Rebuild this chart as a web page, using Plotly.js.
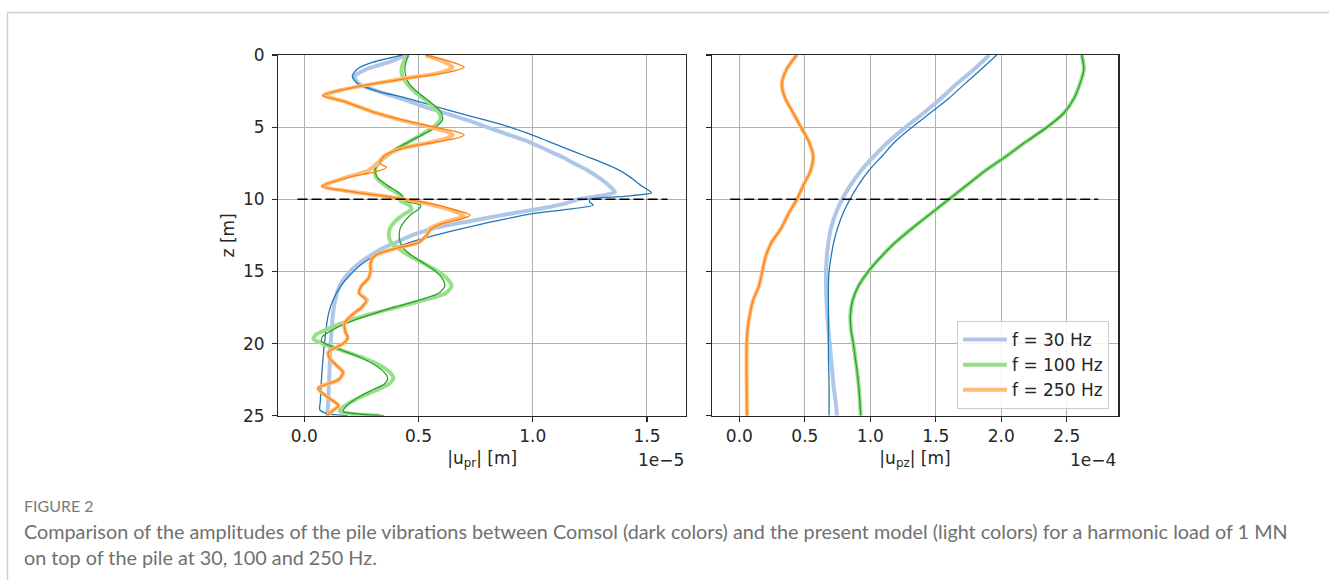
<!DOCTYPE html>
<html><head><meta charset="utf-8">
<script src="https://cdn.plot.ly/plotly-3.0.1.min.js"></script>
<style>html,body{margin:0;padding:0;background:#fff;} #chart{width:1329px;height:580px;}</style>
</head><body><div id="chart"></div>
<script>
// ---------- DATA (radial amplitude |u_pr| in 1e-5 m, vertical |u_pz| in 1e-4 m, depth z in m) ----------
// Left panel, f = 30 Hz
const zR30Model  = [0,0.5,1.0,1.5,2.0,2.5,3.0,3.5,4.0,4.5,5.0,5.5,6.0,6.5,7.0,7.5,8.0,8.5,9.0,9.5,9.75,10.0,10.3,10.6,11.0,11.5,12.0,12.5,13.0,13.5,14.0,14.5,15.0,16.0,17.0,18.0,19.0,20.0,21.0,22.0,23.0,24.0,25.0];
const uR30Model  = [0.45,0.37,0.27,0.22,0.24,0.32,0.42,0.51,0.61,0.71,0.80,0.89,0.98,1.05,1.12,1.18,1.24,1.29,1.33,1.36,1.30,1.20,1.14,1.05,0.90,0.73,0.57,0.47,0.40,0.33,0.28,0.235,0.20,0.155,0.135,0.125,0.12,0.115,0.112,0.11,0.107,0.105,0.10];
const zR30Comsol = [0,0.5,1.0,1.5,2.0,2.5,3.0,3.5,4.0,4.5,5.0,5.5,6.0,6.5,7.0,7.5,8.0,8.5,9.0,9.3,9.55,9.8,10.0,10.2,10.4,10.7,11.0,11.5,12.0,12.5,13.0,13.5,14.0,14.5,15.0,16.0,17.0,18.0,19.0,20.0,21.0,22.0,23.0,24.0,24.6,24.85,25.0];
const uR30Comsol = [0.43,0.30,0.23,0.21,0.235,0.32,0.45,0.56,0.67,0.79,0.90,0.99,1.07,1.15,1.23,1.31,1.38,1.43,1.47,1.50,1.52,1.40,1.25,1.25,1.265,1.15,1.00,0.84,0.70,0.57,0.46,0.37,0.30,0.25,0.215,0.16,0.125,0.105,0.095,0.088,0.082,0.077,0.073,0.07,0.068,0.10,0.19];
// Left panel, f = 100 Hz
const zR100Model  = [0,0.5,1,1.5,2,2.5,3,3.5,4,4.5,5,5.5,6,6.5,7,7.5,8,8.5,9,9.5,9.8,10.1,10.4,10.7,11,11.5,12,12.5,13,13.5,14,14.5,15,15.5,16,16.5,17,17.5,18,18.5,19,19.4,19.7,20,20.5,21,21.5,22,22.4,22.8,23.2,23.6,24,24.4,24.7,24.9,25];
const uR100Model  = [0.455,0.435,0.425,0.43,0.45,0.48,0.52,0.56,0.59,0.595,0.565,0.515,0.46,0.405,0.36,0.325,0.31,0.315,0.35,0.40,0.425,0.42,0.46,0.47,0.44,0.40,0.375,0.37,0.38,0.42,0.47,0.53,0.585,0.625,0.645,0.62,0.52,0.40,0.28,0.18,0.10,0.05,0.04,0.08,0.17,0.26,0.33,0.375,0.39,0.37,0.32,0.26,0.21,0.17,0.155,0.22,0.33];
const zR100Comsol = [0,0.5,1,1.5,2,2.5,3,3.5,4,4.5,5,5.5,6,6.5,7,7.5,8,8.5,9,9.5,9.8,10.1,10.4,10.7,11,11.5,12,12.5,13,13.5,14,14.5,15,15.5,16,16.5,17,17.5,18,18.5,19,19.5,19.85,20.2,20.5,21,21.5,22,22.4,22.8,23.2,23.6,24,24.4,24.7,24.9,25];
const uR100Comsol = [0.455,0.445,0.44,0.445,0.46,0.49,0.53,0.57,0.60,0.605,0.575,0.52,0.46,0.40,0.35,0.32,0.31,0.32,0.36,0.41,0.43,0.44,0.51,0.50,0.47,0.44,0.42,0.415,0.42,0.44,0.48,0.53,0.575,0.605,0.615,0.59,0.50,0.39,0.29,0.20,0.13,0.08,0.075,0.12,0.17,0.25,0.31,0.35,0.365,0.35,0.30,0.25,0.21,0.18,0.17,0.25,0.35];
// Left panel, f = 250 Hz
const zR250Model  = [0,0.4,0.85,1.2,1.6,2.0,2.4,2.8,3.2,3.6,4.0,4.5,5.0,5.3,5.55,5.8,6.1,6.5,7.0,7.5,8.0,8.5,9.1,9.5,9.85,10.2,10.6,11.0,11.2,11.5,12.0,12.5,13.0,13.4,13.9,14.4,15.0,15.5,16.0,16.5,17.0,17.5,18.0,18.6,19.2,19.6,20.0,20.6,21.0,21.5,22.0,22.5,23.1,23.7,24.3,24.7,25.0];
const uR250Model  = [0.53,0.60,0.65,0.60,0.45,0.30,0.17,0.085,0.17,0.24,0.31,0.42,0.55,0.62,0.65,0.62,0.54,0.42,0.35,0.32,0.28,0.18,0.08,0.22,0.38,0.51,0.61,0.68,0.70,0.63,0.55,0.535,0.50,0.40,0.31,0.29,0.29,0.28,0.25,0.24,0.275,0.25,0.21,0.175,0.18,0.19,0.17,0.105,0.11,0.14,0.17,0.15,0.06,0.10,0.15,0.12,0.10];
const zR250Comsol = [0,0.4,0.85,1.2,1.6,2.0,2.4,2.8,3.2,3.6,4.0,4.5,5.0,5.3,5.55,5.8,6.1,6.5,7.0,7.5,7.8,8.1,8.5,9.1,9.5,9.85,10.2,10.6,11.1,11.4,11.7,12.0,12.5,13.0,13.4,13.9,14.4,15.0,15.5,16.0,16.5,17.0,17.5,18.0,18.6,19.2,19.6,20.0,20.6,21.0,21.5,22.0,22.5,23.1,23.7,24.3,24.7,25.0];
const uR250Comsol = [0.53,0.63,0.70,0.63,0.46,0.30,0.17,0.08,0.17,0.24,0.31,0.43,0.57,0.66,0.70,0.66,0.55,0.42,0.35,0.33,0.36,0.31,0.19,0.076,0.22,0.38,0.52,0.63,0.726,0.68,0.60,0.56,0.535,0.50,0.40,0.31,0.29,0.29,0.28,0.25,0.24,0.27,0.25,0.21,0.175,0.18,0.19,0.17,0.105,0.11,0.14,0.17,0.15,0.06,0.10,0.15,0.12,0.10];
// Right panel (vertical amplitude)
const zV = [0,1,2,3,4,5,6,7,8,9,10,11,12,13,14,15,16,17,18,19,20,21,22,23,24,25];
const uV30Model   = [1.908,1.79,1.66,1.54,1.41,1.27,1.14,1.03,0.93,0.85,0.785,0.735,0.70,0.68,0.668,0.662,0.662,0.665,0.672,0.68,0.69,0.70,0.71,0.72,0.735,0.745];
const uV30Comsol  = [1.965,1.845,1.72,1.60,1.46,1.32,1.19,1.09,0.99,0.91,0.845,0.79,0.75,0.72,0.70,0.685,0.68,0.68,0.68,0.68,0.68,0.68,0.683,0.685,0.685,0.685];
const uV100Model  = [2.614,2.63,2.60,2.555,2.48,2.35,2.19,2.04,1.88,1.74,1.60,1.46,1.32,1.19,1.08,0.985,0.91,0.865,0.848,0.852,0.87,0.885,0.90,0.912,0.92,0.927];
const uV100Comsol = [2.614,2.63,2.60,2.555,2.48,2.35,2.19,2.04,1.88,1.74,1.60,1.46,1.32,1.19,1.08,0.985,0.91,0.865,0.848,0.852,0.87,0.885,0.90,0.912,0.92,0.927];
const uV250Model  = [0.438,0.36,0.325,0.35,0.41,0.47,0.53,0.563,0.545,0.49,0.44,0.375,0.32,0.245,0.20,0.175,0.15,0.105,0.08,0.063,0.056,0.055,0.055,0.056,0.057,0.058];
const uV250Comsol = [0.438,0.36,0.325,0.35,0.41,0.47,0.53,0.563,0.545,0.49,0.44,0.375,0.32,0.245,0.20,0.175,0.15,0.105,0.08,0.063,0.056,0.055,0.055,0.056,0.057,0.058];
// Pile toe / interface line
const interfaceDepth = 10;
const interfaceSpanR = [-0.03, 1.59];
const interfaceSpanV = [-0.07, 2.74];
// Legend labels and ticks
const seriesNames = ['f = 30 Hz','f = 100 Hz','f = 250 Hz'];
const xTicksR = [0, 0.5, 1.0, 1.5];
const xTicksV = [0, 0.5, 1.0, 1.5, 2.0, 2.5];
const yTicks = [0, 5, 10, 15, 20, 25];

// ---------- STYLE ----------
const FONT = '"DejaVu Sans", "Liberation Sans", sans-serif';
const CAPFONT = 'Lato, "Open Sans", sans-serif';
const INK = '#262626';
const light = ['#aec7e8','#98df8a','#ffbb78'];
const dark  = ['#1f77b4','#2ca02c','#ff7f0e'];

function modelTrace(x, y, i, xa, ya, show){
  return {x:x, y:y, xaxis:xa, yaxis:ya, type:'scatter', mode:'lines', name:seriesNames[i],
    line:{color:light[i], width:4, shape:'spline', smoothing:0.7}, showlegend:show, legendgroup:'g'+i, hoverinfo:'skip'};
}
function comsolTrace(x, y, i, xa, ya){
  return {x:x, y:y, xaxis:xa, yaxis:ya, type:'scatter', mode:'lines', name:seriesNames[i]+' (Comsol)',
    line:{color:dark[i], width:1.3, shape:'spline', smoothing:0.7}, showlegend:false, legendgroup:'g'+i, hoverinfo:'skip'};
}

const traces = [
  modelTrace(uR30Model, zR30Model, 0, 'x', 'y', true),
  comsolTrace(uR30Comsol, zR30Comsol, 0, 'x', 'y'),
  modelTrace(uR100Model, zR100Model, 1, 'x', 'y', true),
  comsolTrace(uR100Comsol, zR100Comsol, 1, 'x', 'y'),
  modelTrace(uR250Model, zR250Model, 2, 'x', 'y', true),
  comsolTrace(uR250Comsol, zR250Comsol, 2, 'x', 'y'),
  {x:interfaceSpanR, y:[interfaceDepth, interfaceDepth], xaxis:'x', yaxis:'y', mode:'lines', line:{color:'#000', width:1.6, dash:'10px,4px'}, showlegend:false, hoverinfo:'skip'},
  modelTrace(uV30Model, zV, 0, 'x2', 'y2', false),
  comsolTrace(uV30Comsol, zV, 0, 'x2', 'y2'),
  modelTrace(uV100Model, zV, 1, 'x2', 'y2', false),
  comsolTrace(uV100Comsol, zV, 1, 'x2', 'y2'),
  modelTrace(uV250Model, zV, 2, 'x2', 'y2', false),
  comsolTrace(uV250Comsol, zV, 2, 'x2', 'y2'),
  {x:interfaceSpanV, y:[interfaceDepth, interfaceDepth], xaxis:'x2', yaxis:'y2', mode:'lines', line:{color:'#000', width:1.6, dash:'10px,4px'}, showlegend:false, hoverinfo:'skip'}
];

const W = 1329, H = 580;
const px = v => v / W;
const py = v => 1 - v / H;

const axisBase = {
  showline:true, mirror:true, linecolor:INK, linewidth:1.2,
  showgrid:true, gridcolor:'#b0b0b0', gridwidth:1,
  ticks:'outside', ticklen:5, tickwidth:1.2, tickcolor:INK, zeroline:false,
  tickfont:{family:FONT, size:17, color:INK}, fixedrange:true
};
const titleFont = {family:FONT, size:17, color:INK};

const layout = {
  width:W, height:H, margin:{l:0, r:0, t:0, b:0},
  paper_bgcolor:'#fff', plot_bgcolor:'#fff',
  font:{family:FONT, size:17, color:INK},
  showlegend:true,
  xaxis:Object.assign({}, axisBase, {domain:[px(278.3), px(686)], range:[-0.114, 1.671], anchor:'y',
    tickvals:xTicksR, ticktext:xTicksR.map(v=>v.toFixed(1)),
    title:{text:'|u<sub>pr</sub>| [m]', font:titleFont, standoff:6}}),
  xaxis2:Object.assign({}, axisBase, {domain:[px(711.7), px(1118.3)], range:[-0.211, 2.893], anchor:'y2',
    tickvals:xTicksV, ticktext:xTicksV.map(v=>v.toFixed(1)),
    title:{text:'|u<sub>pz</sub>| [m]', font:titleFont, standoff:6}}),
  yaxis:Object.assign({}, axisBase, {domain:[py(415.7), py(55)], range:[25, 0], anchor:'x',
    tickvals:yTicks, ticktext:yTicks.map(String), ticklabelstandoff:4,
    title:{text:'z [m]', font:titleFont, standoff:4}}),
  yaxis2:Object.assign({}, axisBase, {domain:[py(415.7), py(55)], range:[25, 0], anchor:'x2', matches:'y',
    tickvals:yTicks, showticklabels:false}),
  legend:{x:px(1109), xanchor:'right', y:py(409), yanchor:'bottom',
    bgcolor:'rgba(255,255,255,0.85)', bordercolor:'#cccccc', borderwidth:1,
    font:{family:FONT, size:17, color:INK}, tracegroupgap:0, itemwidth:44},
  shapes:[
    {type:'line', xref:'paper', yref:'paper', x0:px(7.5), x1:px(7.5), y0:0, y1:py(12.5), line:{color:'#cfcfcf', width:1.5}},
    {type:'line', xref:'paper', yref:'paper', x0:px(7.5), x1:1, y0:py(12.5), y1:py(12.5), line:{color:'#cfcfcf', width:1.5}}
  ],
  annotations:[
    {xref:'paper', yref:'paper', x:px(686), y:py(460), xanchor:'right', yanchor:'middle', showarrow:false,
     text:'1e\u22125', font:{family:FONT, size:17, color:INK}},
    {xref:'paper', yref:'paper', x:px(1118.3), y:py(460), xanchor:'right', yanchor:'middle', showarrow:false,
     text:'1e\u22124', font:{family:FONT, size:17, color:INK}},
    {xref:'paper', yref:'paper', x:px(22), y:py(505), xanchor:'left', yanchor:'middle', showarrow:false,
     text:'FIGURE 2', font:{family:CAPFONT, size:16, color:'#7a7a7a'}},
    {xref:'paper', yref:'paper', x:px(22), y:py(531), xanchor:'left', yanchor:'middle', showarrow:false,
     text:'Comparison of the amplitudes of the pile vibrations between Comsol (dark colors) and the present model (light colors) for a harmonic load of 1 MN',
     font:{family:CAPFONT, size:19.8, color:'#707070'}},
    {xref:'paper', yref:'paper', x:px(22), y:py(557), xanchor:'left', yanchor:'middle', showarrow:false,
     text:'on top of the pile at 30, 100 and 250 Hz.',
     font:{family:CAPFONT, size:19.8, color:'#707070'}}
  ]
};

Plotly.newPlot('chart', traces, layout, {displayModeBar:false, staticPlot:true});
</script></body></html>
